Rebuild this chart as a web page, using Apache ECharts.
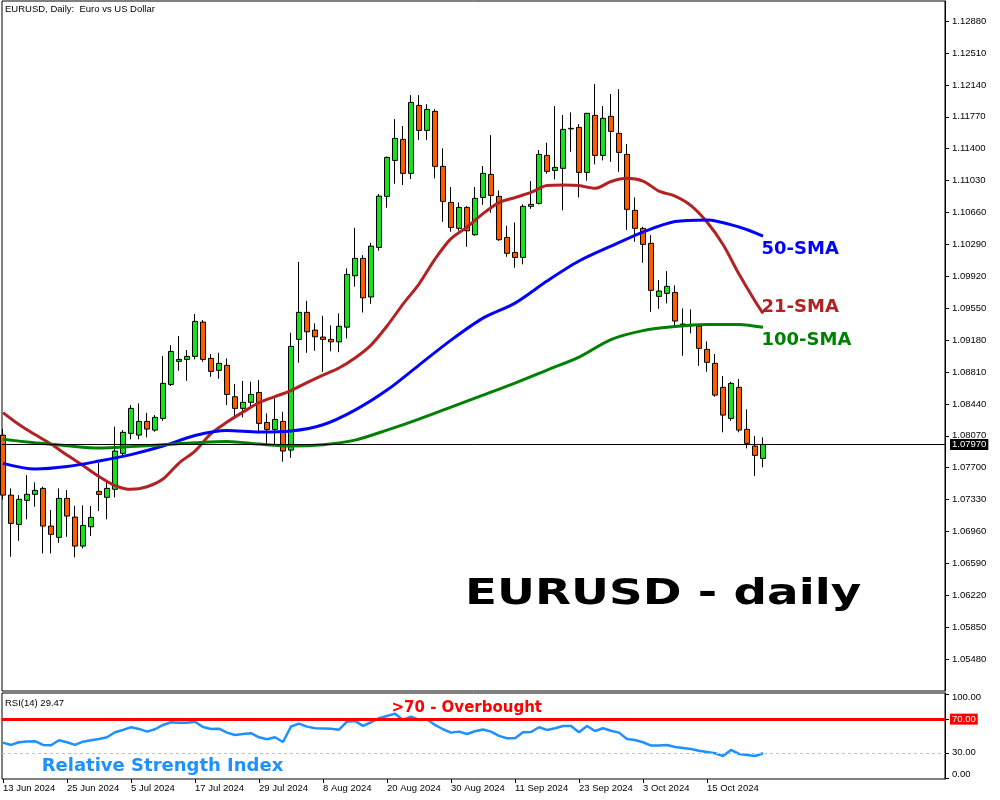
<!DOCTYPE html>
<html><head><meta charset="utf-8">
<script src="https://cdn.jsdelivr.net/npm/echarts@6/dist/echarts.min.js"></script>
<style>html,body{margin:0;padding:0;background:#fff}#c{width:1000px;height:800px}</style>
</head><body><div id="c"></div>
<script>
// ---- data (bar index 0 = 13 Jun 2024) ----
const tickBars = [0,8,16,24,32,40,48,56,64,72,80,88];
const tickDates = ['13 Jun 2024','25 Jun 2024','5 Jul 2024','17 Jul 2024','29 Jul 2024','8 Aug 2024','20 Aug 2024','30 Aug 2024','11 Sep 2024','23 Sep 2024','3 Oct 2024','15 Oct 2024'];
const priceTicks = [1.05480,1.05850,1.06220,1.06590,1.06960,1.07330,1.07700,1.08070,1.08440,1.08810,1.09180,1.09550,1.09920,1.10290,1.10660,1.11030,1.11400,1.11770,1.12140,1.12510,1.12880];
const rsiTicks = [0,30,70,100];
const rsiLabels = [0,30,100];
const lastPrice = 1.07970;
const overbought = 70;
const oversold = 30;

const opens = [1.08078,1.07382,1.07042,1.07321,1.07391,1.07460,1.07023,1.06892,1.07344,1.07127,
1.06791,1.07015,1.07425,1.07356,1.07449,1.07866,1.08098,1.08078,1.08237,1.08136,
1.08272,1.08666,1.08933,1.08956,1.08991,1.09389,1.08968,1.08829,1.08887,1.08523,
1.08388,1.08458,1.08573,1.08225,1.08144,1.08237,1.07904,1.09188,1.09502,1.09296,
1.09215,1.09188,1.09160,1.09330,1.09926,1.10128,1.09680,1.10255,1.10847,1.11264,
1.11508,1.11114,1.11902,1.11612,1.11833,1.11195,1.10777,1.10476,1.10719,1.10402,
1.10835,1.11102,1.10847,1.10371,1.10197,1.10139,1.10731,1.10766,1.11322,1.11148,
1.11172,1.11636,1.11647,1.11125,1.11786,1.11322,1.11775,1.11578,1.11334,1.10685,
1.10476,1.10302,1.09687,1.09722,1.09733,1.09366,1.09354,1.09343,1.09072,1.08910,
1.08632,1.08272,1.08632,1.08145,1.07951,1.07808];
const closes = [1.07382,1.07054,1.07333,1.07391,1.07437,1.07023,1.06927,1.07344,1.07139,1.06791,
1.07031,1.07124,1.07391,1.07460,1.07893,1.08110,1.08388,1.08237,1.08148,1.08284,
1.08678,1.09049,1.08956,1.08991,1.09397,1.08956,1.08817,1.08910,1.08550,1.08388,
1.08458,1.08550,1.08214,1.08144,1.08260,1.07893,1.09107,1.09502,1.09276,1.09218,
1.09188,1.09160,1.09340,1.09942,1.10128,1.09670,1.10270,1.10850,1.11299,1.11520,
1.11114,1.11937,1.11612,1.11856,1.11195,1.10789,1.10487,1.10719,1.10448,1.10824,
1.11114,1.10858,1.10344,1.10186,1.10139,1.10731,1.10754,1.11334,1.11137,1.11183,
1.11624,1.11630,1.11125,1.11810,1.11322,1.11752,1.11601,1.11357,1.10696,1.10476,
1.10290,1.09757,1.09749,1.09803,1.09401,1.09360,1.09345,1.09084,1.08922,1.08542,
1.08310,1.08678,1.08136,1.07982,1.07843,1.07970];
const highs = [1.08150,1.07460,1.07382,1.07614,1.07530,1.07479,1.07209,1.07460,1.07440,1.07258,
1.07263,1.07255,1.07757,1.07537,1.08175,1.08136,1.08426,1.08446,1.08337,1.08311,
1.08995,1.09122,1.09227,1.09064,1.09482,1.09412,1.09018,1.09033,1.08968,1.08670,
1.08705,1.08697,1.08716,1.08330,1.08504,1.08349,1.09265,1.10088,1.09636,1.09374,
1.09462,1.09350,1.09490,1.10012,1.10483,1.10166,1.10309,1.10874,1.11310,1.11743,
1.11662,1.12022,1.12022,1.11917,1.11859,1.11404,1.10955,1.10777,1.10734,1.10955,
1.11198,1.11558,1.10916,1.10506,1.10545,1.10754,1.11024,1.11384,1.11469,1.11894,
1.11790,1.11821,1.11685,1.11815,1.12149,1.11894,1.12033,1.12091,1.11453,1.10835,
1.10494,1.10398,1.09876,1.09980,1.09815,1.09548,1.09536,1.09343,1.09165,1.09018,
1.08763,1.08697,1.08728,1.08377,1.08067,1.08052];
const lows = [1.07330,1.06667,1.06852,1.07101,1.07247,1.06706,1.06706,1.06829,1.06899,1.06660,
1.06764,1.06907,1.07197,1.07101,1.07356,1.07827,1.08029,1.08029,1.08052,1.08117,
1.08244,1.08647,1.08824,1.08708,1.08956,1.08929,1.08754,1.08731,1.08426,1.08272,
1.08284,1.08407,1.08098,1.07974,1.07974,1.07769,1.07815,1.08917,1.09033,1.09056,
1.08812,1.09050,1.09040,1.09200,1.09800,1.09500,1.09600,1.10216,1.10715,1.10993,
1.10978,1.11048,1.11500,1.11500,1.11056,1.10552,1.10436,1.10448,1.10262,1.10390,
1.10749,1.10657,1.10332,1.10146,1.10019,1.10058,1.10703,1.10754,1.11109,1.11044,
1.10685,1.11364,1.10835,1.11028,1.11218,1.11264,1.11248,1.11132,1.10456,1.10320,
1.10077,1.09508,1.09543,1.09606,1.09354,1.08998,1.09258,1.08882,1.08813,1.08523,
1.08110,1.08244,1.08110,1.07924,1.07603,1.07704];

const sma21Bars = [0,2,4,6,8,10,12,14,16,18,20,22,24,26,28,30,32,34,36,38,40,42,44,46,48,50,52,54,56,58,60,62,64,66,68,70,72,74,76,78,80,82,84,86,88,90,92,94,95];
const sma21 = [1.08339,1.08200,1.08084,1.07974,1.07846,1.07725,1.07597,1.07493,1.07449,1.07479,
1.07568,1.07754,1.07893,1.08096,1.08229,1.08345,1.08455,1.08525,1.08595,1.08687,
1.08774,1.08856,1.08972,1.09122,1.09343,1.09598,1.09830,1.10120,1.10357,1.10491,
1.10647,1.10775,1.10833,1.10893,1.10972,1.10978,1.10972,1.10940,1.11019,1.11056,
1.11024,1.10908,1.10850,1.10740,1.10549,1.10288,1.09946,1.09633,1.09490];
const smaBars = [0,4,8,12,16,20,24,28,32,36,40,44,48,52,56,60,64,68,72,76,80,84,88,92,95];
const sma50 = [1.07750,1.07684,1.07713,1.07777,1.07852,1.07951,1.08073,1.08131,1.08113,1.08125,1.08198,1.08368,1.08600,1.08890,1.09180,1.09435,1.09609,1.09865,1.10097,1.10270,1.10433,1.10555,1.10574,1.10491,1.10386];
const sma100 = [1.08029,1.07988,1.07954,1.07928,1.07945,1.07967,1.07990,1.08005,1.07974,1.07951,1.07967,1.08020,1.08136,1.08264,1.08403,1.08542,1.08682,1.08832,1.08983,1.09186,1.09290,1.09337,1.09360,1.09362,1.09328];

const rsi = [42.1,39.4,42.6,43.5,43.8,39.4,39.0,45.0,42.6,39.4,
43.3,45.0,46.5,48.5,54.4,57.2,60.4,58.4,55.2,58.0,
63.1,66.3,65.8,65.8,67.0,60.7,58.4,58.7,54.0,51.2,
52.4,53.3,48.5,46.1,48.5,42.9,61.3,64.6,61.1,59.2,
59.0,58.7,57.5,67.0,67.9,61.9,66.3,71.1,73.8,76.5,
69.0,73.0,69.0,69.9,63.1,58.0,54.0,55.2,52.4,55.6,
57.8,55.2,50.1,47.3,47.3,54.4,54.8,60.4,57.2,59.2,
61.9,61.9,54.4,61.9,56.0,59.2,56.3,54.0,46.5,45.3,
42.6,38.6,38.6,39.4,37.0,35.8,34.6,32.6,31.1,29.5,
26.3,33.5,28.7,27.5,26.3,29.47];

// ---- chart ----
const chart = echarts.init(document.getElementById('c'), null, {renderer: 'canvas'});
const axisFont = {fontFamily: 'Liberation Sans', fontSize: 9.5, color: '#000'};
const candleData = opens.map((o, i) => [i, o, closes[i], lows[i], highs[i]]);
const pairs = (bars, vals) => bars.map((b, k) => [b, vals[k]]);

const option = {
  animation: false,
  backgroundColor: '#fff',
  grid: [
    {left: 2, right: 55, top: 1, height: 690, show: true, borderColor: '#000', borderWidth: 1, backgroundColor: '#fff'},
    {left: 2, right: 55, top: 693, height: 86, show: true, borderColor: '#000', borderWidth: 1, backgroundColor: '#fff'}
  ],
  xAxis: [
    {gridIndex: 0, type: 'value', min: -0.125, max: 117.75, show: false, axisLine: {onZero: false}},
    {gridIndex: 1, type: 'value', min: -0.125, max: 117.75,
      axisLine: {show: false, onZero: false}, splitLine: {show: false},
      axisTick: {show: true, length: 4, customValues: tickBars, lineStyle: {color: '#000'}},
      axisLabel: Object.assign({customValues: tickBars, align: 'left', margin: 4,
        formatter: v => tickDates[tickBars.indexOf(Math.round(v))] || ''}, axisFont)}
  ],
  yAxis: [
    {gridIndex: 0, type: 'value', position: 'right', min: 1.0511, max: 1.13113,
      axisLine: {show: true, onZero: false, lineStyle: {color: '#000'}}, splitLine: {show: false},
      axisTick: {show: true, length: 4, customValues: priceTicks, lineStyle: {color: '#000'}},
      axisLabel: Object.assign({customValues: priceTicks, margin: 7, formatter: v => v.toFixed(5)}, axisFont)},
    {gridIndex: 1, type: 'value', position: 'right', min: -1, max: 101,
      axisLine: {show: true, onZero: false, lineStyle: {color: '#000'}}, splitLine: {show: false},
      axisTick: {show: true, length: 4, customValues: rsiTicks, lineStyle: {color: '#000'}},
      axisLabel: Object.assign({customValues: rsiLabels, margin: 7,
        formatter: v => v >= 100 ? '{a|' + v.toFixed(2) + '}' : (v <= 0 ? '{b|' + v.toFixed(2) + '}' : v.toFixed(2)),
        rich: {a: {padding: [8, 0, 0, 0], fontFamily: 'Liberation Sans', fontSize: 9.5, color: '#000'},
               b: {padding: [0, 0, 8, 0], fontFamily: 'Liberation Sans', fontSize: 9.5, color: '#000'}}}, axisFont)}
  ],
  series: [
    {type: 'candlestick', name: 'EURUSD', xAxisIndex: 0, yAxisIndex: 0, data: candleData,
      barWidth: 5,
      itemStyle: {color: '#17e01f', color0: '#ff5a00', borderColor: '#000', borderColor0: '#000', borderColorDoji: '#000', borderWidth: 1},
      markLine: {silent: true, symbol: 'none', animation: false, precision: 5,
        lineStyle: {color: '#000', width: 1, type: 'solid'},
        label: {position: 'end', distance: 5, formatter: p => Number(p.value).toFixed(5), color: '#fff', backgroundColor: '#000',
          padding: [1, 2, 0, 2], fontFamily: 'Liberation Sans', fontSize: 9.5},
        data: [{yAxis: lastPrice}]}},
    {type: 'line', name: '21-SMA', xAxisIndex: 0, yAxisIndex: 0, data: pairs(sma21Bars, sma21), showSymbol: false, smooth: 0.3,
      lineStyle: {color: '#b22222', width: 3}},
    {type: 'line', name: '50-SMA', xAxisIndex: 0, yAxisIndex: 0, data: pairs(smaBars, sma50), showSymbol: false, smooth: 0.3,
      lineStyle: {color: '#0000ff', width: 3}},
    {type: 'line', name: '100-SMA', xAxisIndex: 0, yAxisIndex: 0, data: pairs(smaBars, sma100), showSymbol: false, smooth: 0.3,
      lineStyle: {color: '#008000', width: 3}},
    {type: 'line', name: 'RSI(14)', xAxisIndex: 1, yAxisIndex: 1, data: rsi.map((v, i) => [i, v]), showSymbol: false,
      lineStyle: {color: '#1e90ff', width: 2.5},
      markLine: {silent: true, symbol: 'none', animation: false, precision: 2,
        data: [
          {yAxis: overbought, lineStyle: {color: '#ff0000', width: 3, type: 'solid'},
            label: {show: true, position: 'end', distance: 5, formatter: '70.00', color: '#fff', backgroundColor: '#ff0000',
              padding: [1, 2, 0, 2], fontFamily: 'Liberation Sans', fontSize: 9.5}},
          {yAxis: oversold, lineStyle: {color: '#c0c0c0', width: 1, type: [3, 3]}, label: {show: false}}
        ]}}
  ],
  graphic: [
    {type: 'text', x: 5, y: 9.5, style: {text: 'EURUSD, Daily:  Euro vs US Dollar', font: '9.5px "Liberation Sans"', fill: '#000', verticalAlign: 'middle'}},
    {type: 'text', x: 5, y: 703, style: {text: 'RSI(14) 29.47', font: '9.5px "Liberation Sans"', fill: '#000', verticalAlign: 'middle'}},
    {type: 'text', x: 761.5, y: 249.5, style: {text: '50-SMA', font: 'bold 18px "DejaVu Sans"', fill: '#0000ff', verticalAlign: 'middle'}},
    {type: 'text', x: 761.5, y: 307, style: {text: '21-SMA', font: 'bold 18px "DejaVu Sans"', fill: '#b22222', verticalAlign: 'middle'}},
    {type: 'text', x: 761.5, y: 340.3, style: {text: '100-SMA', font: 'bold 18px "DejaVu Sans"', fill: '#008000', verticalAlign: 'middle'}},
    {type: 'text', x: 465, y: 594.5, scaleX: 1.3, style: {text: 'EURUSD - daily', font: 'bold 36px "DejaVu Sans"', fill: '#000', verticalAlign: 'middle'}},
    {type: 'text', x: 391.5, y: 708, style: {text: '>70 - Overbought', font: 'bold 15px "DejaVu Sans"', fill: '#ff0000', verticalAlign: 'middle'}},
    {type: 'text', x: 41.7, y: 766, style: {text: 'Relative Strength Index', font: 'bold 18px "DejaVu Sans"', fill: '#1e90ff', verticalAlign: 'middle'}}
  ]
};
chart.setOption(option);
</script>
</body></html>
